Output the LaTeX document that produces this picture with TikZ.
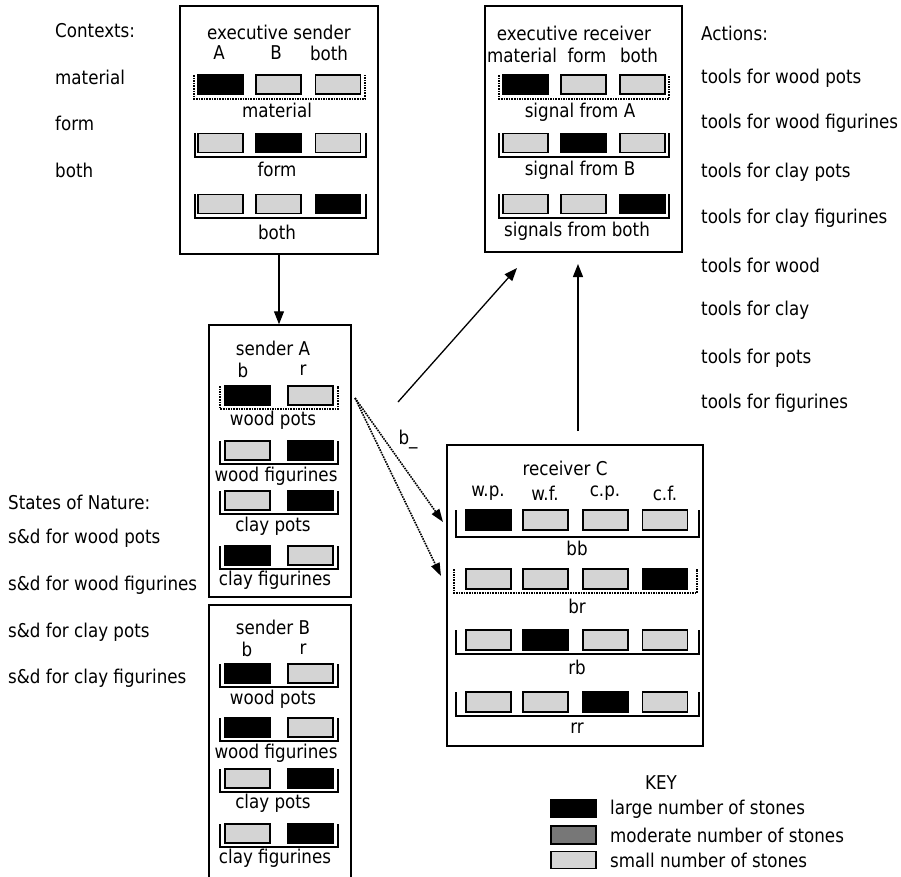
\documentclass[tikz,border=0pt]{standalone}
\usepackage{fontspec}
\setmainfont{DejaVu Sans}[FakeStretch=0.88]
\usetikzlibrary{arrows.meta}
\definecolor{lo}{HTML}{D4D4D4}
\definecolor{mid}{HTML}{777777}
\begin{document}
\begin{tikzpicture}[x=1bp,y=-1bp,
  txt/.style={font=\fontsize{19bp}{21bp}\selectfont, inner sep=0pt},
  ltxt/.style={txt, anchor=west},
  frame/.style={draw, line width=1.5bp, inner sep=0pt},
  cell/.style={draw, line width=1.5bp, inner sep=0pt, minimum width=45bp, minimum height=19bp},
  hi/.style={cell, fill=black},
  lw/.style={cell, fill=lo},
  md/.style={cell, fill=mid},
  brk/.style={line width=1.2bp},
  dbrk/.style={line width=1.6bp, densely dotted},
  arr/.style={line width=1.3bp, -{Triangle[length=13bp,width=10bp]}},
  darr/.style={line width=1.6bp, densely dotted, -{Triangle[length=13bp,width=9bp]}},
]
\useasboundingbox (0,0) rectangle (901,877);
\clip (0,0) rectangle (901,877);
\fill[white] (0,0) rectangle (901,877);

% ---- side texts ----
\node[ltxt] (c0) at (55,31) {Contexts:};
\node[ltxt] (c1) at (55,77) {material};
\node[ltxt] (c2) at (55,123) {form};
\node[ltxt] (c3) at (55,170) {both};

\node[ltxt] (n0) at (8,502) {States of Nature:};
\node[ltxt] (n1) at (8,538) {s\&d for wood pots};
\node[ltxt] (n2) at (8,585) {s\&d for wood figurines};
\node[ltxt] (n3) at (8,632) {s\&d for clay pots};
\node[ltxt] (n4) at (8,678) {s\&d for clay figurines};

\node[ltxt] (k0) at (701,33) {Actions:};
\node[ltxt] (k1) at (701,78) {tools for wood pots};
\node[ltxt] (k2) at (701,123) {tools for wood figurines};
\node[ltxt] (k3) at (701,172) {tools for clay pots};
\node[ltxt] (k4) at (701,218) {tools for clay figurines};
\node[ltxt] (k5) at (701,265) {tools for wood};
\node[ltxt] (k6) at (701,310) {tools for clay};
\node[ltxt] (k7) at (701,358) {tools for pots};
\node[ltxt] (k8) at (701,403) {tools for figurines};

% ---- boxes ----
\node[frame, minimum width=198bp, minimum height=248bp] (es) at (279,130) {};
\node[frame, minimum width=197bp, minimum height=246bp] (er) at (583.5,129) {};
\node[frame, minimum width=142bp, minimum height=272bp] (sa) at (280,461) {};
\node[frame, minimum width=142bp, minimum height=285bp] (sb) at (280,747.5) {};
\node[frame, minimum width=256bp, minimum height=301bp] (rc) at (575,595.5) {};

% ---- executive sender ----
\node[txt] (esh) at (279,32) {executive sender};
\node[txt] (esA) at (219,53) {A};
\node[txt] (esB) at (276,53) {B};
\node[txt] (esC) at (329,53) {both};
\foreach \r/\y/\a/\b/\c in {1/84.5/hi/lw/lw, 2/143/lw/hi/lw, 3/204/lw/lw/hi}{
  \node[\a] (es\r a) at (220.5,\y) {};
  \node[\b] (es\r b) at (278.5,\y) {};
  \node[\c] (es\r c) at (338,\y) {};
}
\draw[dbrk] (194,75) |- (365,99) -- (365,75);
\draw[brk] (195,133) |- (366,157) -- (366,133);
\draw[brk] (195,194) |- (366,218) -- (366,194);
\node[txt] (esl1) at (277,110) {material};
\node[txt] (esl2) at (277,169) {form};
\node[txt] (esl3) at (277,232) {both};

% ---- executive receiver ----
\node[txt] (erh) at (574,33) {executive receiver};
\node[txt] (erA) at (522,55) {material};
\node[txt] (erB) at (587,55) {form};
\node[txt] (erC) at (639,55) {both};
\foreach \r/\y/\a/\b/\c in {1/84.5/hi/lw/lw, 2/143/lw/hi/lw, 3/204/lw/lw/hi}{
  \node[\a] (er\r a) at (525.5,\y) {};
  \node[\b] (er\r b) at (583.5,\y) {};
  \node[\c] (er\r c) at (642.5,\y) {};
}
\draw[dbrk] (499,75) |- (669,99) -- (669,75);
\draw[brk] (499,133) |- (669,157) -- (669,133);
\draw[brk] (499,194) |- (669,218) -- (669,194);
\node[txt] (erl1) at (580,112) {signal from A};
\node[txt] (erl2) at (580,170) {signal from B};
\node[txt] (erl3) at (577,231) {signals from both};

% ---- sender A ----
\node[txt] (sah) at (273,348) {sender A};
\node[txt] (sab) at (243,370) {b};
\node[txt] (sar) at (303,370) {r};
\foreach \r/\y/\a/\b in {1/395.5/hi/lw, 2/450.5/lw/hi, 3/500.5/lw/hi, 4/555.5/hi/lw}{
  \node[\a] (sa\r a) at (247.5,\y) {};
  \node[\b] (sa\r b) at (310.5,\y) {};
}
\draw[dbrk] (220,386) |- (338,409) -- (338,386);
\draw[brk] (220,441) |- (338,464) -- (338,441);
\draw[brk] (220,491) |- (338,514) -- (338,491);
\draw[brk] (220,546) |- (338,569) -- (338,546);
\node[txt] (sal1) at (273,420) {wood pots};
\node[txt] (sal2) at (276,476) {wood figurines};
\node[txt] (sal3) at (273,526) {clay pots};
\node[txt] (sal4) at (275,580) {clay figurines};

% ---- sender B ----
\node[txt] (sbh) at (273,627) {sender B};
\node[txt] (sbb) at (247,649) {b};
\node[txt] (sbr) at (303,649) {r};
\foreach \r/\y/\a/\b in {1/673.5/hi/lw, 2/727.5/hi/lw, 3/778.5/lw/hi, 4/833.5/lw/hi}{
  \node[\a] (sb\r a) at (247.5,\y) {};
  \node[\b] (sb\r b) at (310.5,\y) {};
}
\draw[brk] (220,664) |- (338,687) -- (338,664);
\draw[brk] (220,718) |- (338,741) -- (338,718);
\draw[brk] (220,769) |- (338,792) -- (338,769);
\draw[brk] (220,824) |- (338,847) -- (338,824);
\node[txt] (sbl1) at (273,699) {wood pots};
\node[txt] (sbl2) at (276,753) {wood figurines};
\node[txt] (sbl3) at (273,803) {clay pots};
\node[txt] (sbl4) at (275,858) {clay figurines};

% ---- receiver C ----
\node[txt] (rch) at (565,468) {receiver C};
\node[txt] (rc1) at (488,493) {w.p.};
\node[txt] (rc2) at (545,493) {w.f.};
\node[txt] (rc3) at (605,493) {c.p.};
\node[txt] (rc4) at (665,493) {c.f.};
\foreach \r/\y/\a/\b/\c/\d in {1/520/hi/lw/lw/lw, 2/579/lw/lw/lw/hi, 3/640/lw/hi/lw/lw, 4/702/lw/lw/hi/lw}{
  \node[\a, minimum height=20bp] (rc\r a) at (488.5,\y) {};
  \node[\b, minimum height=20bp] (rc\r b) at (545.5,\y) {};
  \node[\c, minimum height=20bp] (rc\r c) at (605.5,\y) {};
  \node[\d, minimum height=20bp] (rc\r d) at (665,\y) {};
}
\draw[brk] (456,510) |- (699,537) -- (699,510);
\draw[dbrk] (454,569) |- (697,593) -- (697,569);
\draw[brk] (456,630) |- (699,654) -- (699,630);
\draw[brk] (456,692) |- (699,716) -- (699,692);
\node[txt] (rcl1) at (577,548) {bb};
\node[txt] (rcl2) at (577,606) {br};
\node[txt] (rcl3) at (577,667) {rb};
\node[txt] (rcl4) at (577,728) {rr};

% ---- key ----
\node[txt] (key) at (661,783) {KEY};
\node[hi, minimum height=18bp] (kh) at (573.5,808.5) {};
\node[md, minimum height=18bp] (km) at (573.5,835) {};
\node[lw, minimum height=17bp] (kl) at (573.5,860) {};
\node[ltxt] (khl) at (610,809) {large number of stones};
\node[ltxt] (kml) at (610,835) {moderate number of stones};
\node[ltxt] (kll) at (610,860) {small number of stones};

% ---- connectors ----
\draw[arr] (es.south) -- (es.south |- sa.north);
\coordinate (a2s) at (398,402);
\coordinate (a2e) at (517,268);
\draw[arr] (a2s) -- (a2e);
\coordinate (a3s) at (578,431);
\coordinate (a3e) at (578,264);
\draw[arr] (a3s) -- (a3e);
\coordinate (d0) at (355,398);
\coordinate (d1) at (443,522);
\coordinate (d2) at (441,576);
\draw[darr] (d0) -- (d1);
\draw[darr] (d0) -- (d2);
\node[txt] (blab) at (408,440) {b\_};
\end{tikzpicture}
\end{document}
